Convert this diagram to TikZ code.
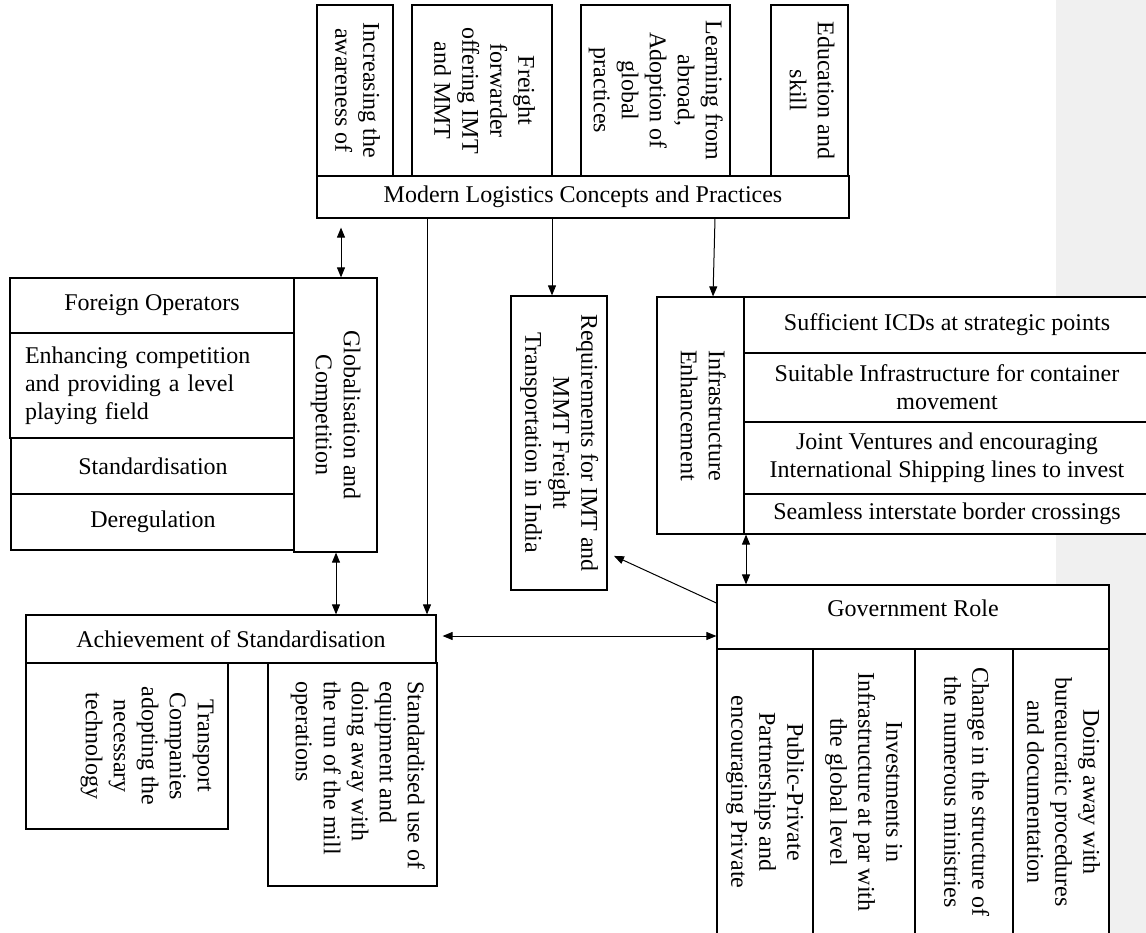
\documentclass[tikz,border=0pt]{standalone}
\usepackage{fontspec}
\setmainfont{Liberation Serif}
\usetikzlibrary{arrows.meta}
\newcommand{\vtext}[1]{\rotatebox{-90}{\begin{tabular}{@{}c@{}}#1\end{tabular}}}
\newcommand{\vtextl}[1]{\rotatebox{-90}{\begin{tabular}{@{}l@{}}#1\end{tabular}}}
\begin{document}
\begin{tikzpicture}[x=1pt,y=-1pt,
  box/.style={draw, fill=white, line width=1.2pt, inner sep=0pt, align=center, font=\fontsize{24}{28}\selectfont},
  vlabel/.style={inner sep=0pt, font=\fontsize{24}{28}\selectfont},
  arr/.style={line width=1pt, -{Triangle[length=10pt,width=8pt]}},
  twoway/.style={line width=1pt, {Triangle[length=10pt,width=8pt]}-{Triangle[length=10pt,width=8pt]}}]
\useasboundingbox (0,0) rectangle (1146,933);
\fill [black!6] (1056,0) rectangle (1146,933);
\node [box, minimum width=76pt, minimum height=171pt] (aware) at (355,90.5) {\vtext{Increasing the\\awareness of}};
\node [box, minimum width=140pt, minimum height=171pt] (freight) at (482,90.5) {\vtext{Freight\\forwarder\\offering IMT\\and MMT}};
\node [box, minimum width=149pt, minimum height=171pt] (learn) at (655.5,90.5) {\vtext{Learning from\\abroad,\\Adoption of\\global\\practices}};
\node [box, minimum width=77pt, minimum height=171pt] (edu) at (809.5,90.5) {\vtext{Education and\\skill}};
\node [box, minimum width=532pt, minimum height=42pt] (modern) at (583,197) {Modern Logistics Concepts and Practices};
\node [box, minimum width=284pt, minimum height=55pt] (foreign) at (152,305.5) {Foreign Operators};
\node [box, minimum width=284pt, minimum height=105pt, text width=254pt, align=left] (enhance) at (152,385.5) {Enhancing competition\\and providing a level\\playing field};
\node [box, minimum width=284pt, minimum height=56pt] (stand) at (153,466) {Standardisation};
\node [box, minimum width=284pt, minimum height=56pt] (dereg) at (153,522) {Deregulation};
\node [box, minimum width=83pt, minimum height=274pt] (glob) at (335.5,415) {\vtext{Globalisation and\\Competition}};
\node [box, minimum width=410pt, minimum height=48pt] (achieve) at (231,639) {Achievement of Standardisation};
\node [box, minimum width=202pt, minimum height=166pt] (transport) at (127,746) {};
\node [vlabel, anchor=east] (transporttext) at ([xshift=-11pt]transport.east) {\vtext{Transport\\Companies\\adopting the\\necessary\\technology}};
\node [box, minimum width=169pt, minimum height=223pt] (stduse) at (352.5,774.5) {};
\node [vlabel, anchor=north east] (stdusetext) at ([xshift=-10pt,yshift=-19pt]stduse.north east) {\vtextl{Standardised use of\\equipment and\\doing away with\\the run of the mill\\operations}};
\node [box, minimum width=96pt, minimum height=294pt] (req) at (559,443) {\vtext{Requirements for IMT and\\MMT Freight\\Transportation in India}};
\node [box, minimum width=87pt, minimum height=237pt] (infra) at (700.5,415.5) {\vtext{Infrastructure\\Enhancement}};
\node [box, minimum width=406pt, minimum height=56pt] (icd) at (947,325) {Sufficient ICDs at strategic points};
\node [box, minimum width=406pt, minimum height=69pt] (suit) at (947,387.5) {Suitable Infrastructure for container\\movement};
\node [box, minimum width=406pt, minimum height=72pt] (joint) at (947,458) {Joint Ventures and encouraging\\International Shipping lines to invest};
\node [box, minimum width=406pt, minimum height=40pt] (seam) at (947,514) {Seamless interstate border crossings};
\node [box, minimum width=392pt, minimum height=64pt] (gov) at (913,617) {\raisebox{1pt}[0pt][0pt]{Government Role}};
\node [box, minimum width=96pt, minimum height=286pt] (ppp) at (765,792) {\vtext{Public-Private\\Partnerships and\\encouraging Private}};
\node [box, minimum width=102pt, minimum height=286pt] (invest) at (864,792) {\vtext{Investments in\\Infrastructure at par with\\the global level}};
\node [box, minimum width=98pt, minimum height=286pt] (change) at (964,792) {\vtext{Change in the structure of\\the numerous ministries}};
\node [box, minimum width=96pt, minimum height=286pt] (doing) at (1061,792) {\vtext{Doing away with\\bureaucratic procedures\\and documentation}};
\draw [twoway, shorten <=9pt] (341,0 |- modern.south) -- (341,0 |- glob.north);
\draw [arr] (427,0 |- modern.south) -- (427,0 |- achieve.north);
\draw [arr] (552,0 |- modern.south) -- (552,0 |- req.north);
\draw [arr] (715,0 |- modern.south) -- (713,0 |- infra.north);
\draw [twoway] (336,0 |- glob.south) -- (336,0 |- achieve.north);
\draw [twoway] (746,0 |- seam.south) -- (746,0 |- gov.north);
\draw [arr, shorten >=7pt] (gov.west |- 0,603) -- (req.east |- 0,553);
\draw [twoway, shorten <=6pt] (achieve.east |- 0,636) -- (gov.west |- 0,636);
\end{tikzpicture}
\end{document}
